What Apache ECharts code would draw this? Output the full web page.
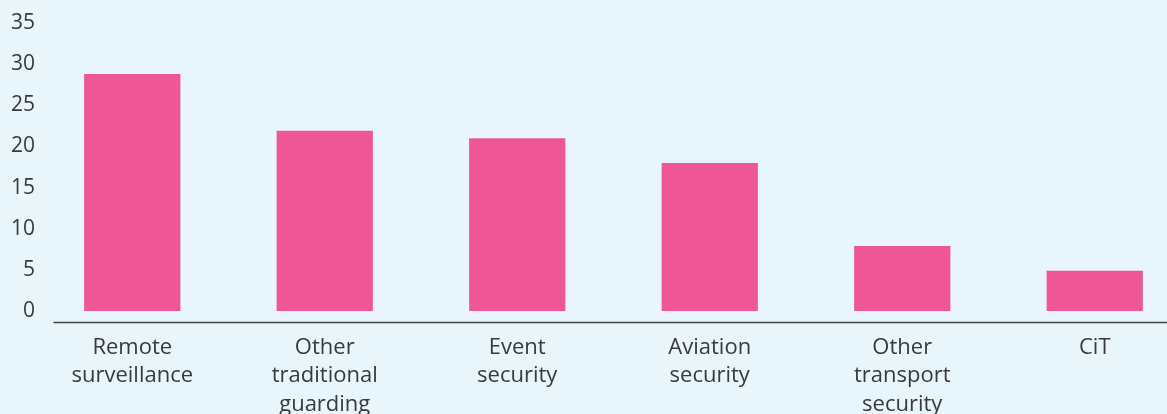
<!DOCTYPE html>
<html>
<head>
<meta charset="utf-8">
<script src="https://cdn.jsdelivr.net/npm/echarts@6/dist/echarts.min.js"></script>
<style>
html,body{margin:0;padding:0;background:#e8f5fb;overflow:hidden;}
#c{width:1191px;height:414px;}
</style>
</head>
<body>
<div id="c"></div>
<script>
const categories = ['Remote\nsurveillance', 'Other\ntraditional\nguarding', 'Event\nsecurity', 'Aviation\nsecurity', 'Other\ntransport\nsecurity', 'CiT'];
const values = [28.8, 21.9, 21.0, 18.0, 7.9, 4.9];
const yTicks = [0, 5, 10, 15, 20, 25, 30, 35];

const FONT = 'Open Sans';
const TXT = '#3a3a3a';
const chart = echarts.init(document.getElementById('c'), null, {renderer: 'canvas'});
chart.setOption({
  backgroundColor: '#e8f5fb',
  animation: false,
  grid: [
    {left: 36, right: 0, top: 23, bottom: 103, containLabel: false, outerBoundsMode: 'none'},
    {left: 54, right: 0, top: 23, bottom: 92, containLabel: false, outerBoundsMode: 'none'}
  ],
  xAxis: [
    {
      type: 'category', gridIndex: 0, data: categories,
      axisLine: {show: false}, axisTick: {show: false},
      axisLabel: {color: TXT, fontFamily: FONT, fontSize: 22, lineHeight: 28.5, margin: 22, interval: 0}
    },
    {
      type: 'category', gridIndex: 1, data: categories,
      axisLine: {show: true, lineStyle: {color: '#444', width: 1.3}},
      axisTick: {show: false}, axisLabel: {show: false}
    }
  ],
  yAxis: [
    {
      type: 'value', gridIndex: 0, min: yTicks[0], max: yTicks[yTicks.length - 1], interval: 5,
      splitLine: {show: false}, axisLine: {show: false}, axisTick: {show: false},
      axisLabel: {color: TXT, fontFamily: FONT, fontSize: 21, margin: 1}
    },
    {
      type: 'value', gridIndex: 1, min: 0, max: 35, show: false
    }
  ],
  series: [{
    type: 'bar', xAxisIndex: 0, yAxisIndex: 0, data: values,
    barWidth: '50%', itemStyle: {color: '#ef5794'}
  }]
});
</script>
</body>
</html>
